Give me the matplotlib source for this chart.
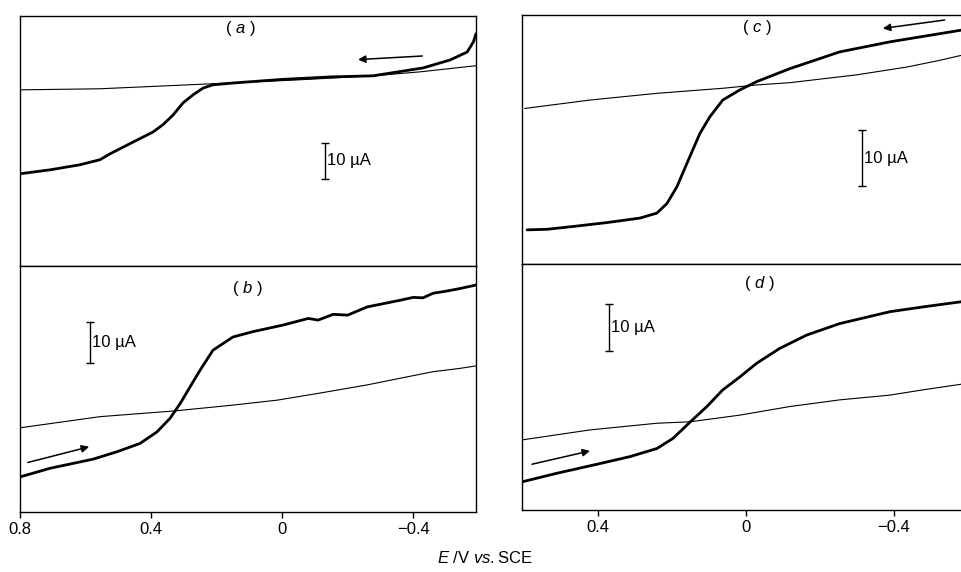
import matplotlib.pyplot as plt

plt.rcParams['font.family'] = ['Liberation Sans', 'DejaVu Sans']
plt.rcParams['mathtext.fontset'] = 'custom'
plt.rcParams['mathtext.rm'] = 'Liberation Sans'
plt.rcParams['mathtext.it'] = 'Liberation Sans:italic'

# potentials in V vs SCE, currents in uA (arbitrary zero per panel)
# (a)
a_thin_E = [0.8, 0.556, 0.211, -0.055, -0.278, -0.421, -0.592]
a_thin_I = [48.9, 49.2, 50.6, 51.7, 52.8, 53.9, 55.6]
a_thick_E = [0.8, 0.708, 0.617, 0.556, 0.526, 0.455, 0.394, 0.364, 0.333, 0.302,
             0.272, 0.241, 0.211, 0.150, 0.0, -0.150, -0.278, -0.431, -0.513, -0.565, -0.584, -0.592]
a_thick_I = [25.6, 26.7, 28.1, 29.5, 31.1, 34.4, 37.2, 39.2, 41.9, 45.3,
             47.5, 49.4, 50.3, 50.8, 51.8, 52.5, 52.8, 55.0, 57.2, 59.4, 62.2, 64.5]
# (b)
b_thin_E = [0.8, 0.556, 0.327, 0.150, 0.015, -0.107, -0.260, -0.360, -0.461, -0.543, -0.592]
b_thin_I = [20.4, 23.1, 24.5, 25.9, 27.1, 28.7, 30.8, 32.4, 34.0, 34.8, 35.4]
b_thick_E = [0.8, 0.708, 0.577, 0.504, 0.434, 0.382, 0.342, 0.311, 0.281, 0.250,
             0.211, 0.150, 0.089, -0.003, -0.08, -0.11, -0.156, -0.20, -0.23, -0.260,
             -0.360, -0.40, -0.43, -0.461, -0.50, -0.54, -0.592]
b_thick_I = [8.5, 10.6, 12.8, 14.6, 16.6, 19.4, 22.7, 26.3, 30.3, 34.4,
             39.2, 42.4, 43.7, 45.3, 46.9, 46.5, 47.9, 47.7, 48.7, 49.7,
             51.3, 52.0, 51.9, 53.0, 53.5, 54.1, 55.0]
# (c)
c_thin_E = [0.597, 0.421, 0.240, 0.062, -0.030, -0.119, -0.300, -0.436, -0.525, -0.584]
c_thin_I = [27.8, 29.3, 30.5, 31.4, 32.0, 32.4, 33.8, 35.2, 36.4, 37.3]
c_thick_E = [0.591, 0.537, 0.467, 0.375, 0.286, 0.240, 0.213, 0.186, 0.151, 0.124,
             0.097, 0.062, 0.016, -0.030, -0.119, -0.254, -0.390, -0.584]
c_thick_I = [6.1, 6.2, 6.7, 7.4, 8.2, 9.1, 10.8, 13.8, 19.2, 23.3,
             26.3, 29.3, 31.1, 32.6, 34.9, 37.9, 39.7, 41.8]
# (d)
d_thin_E = [0.605, 0.421, 0.240, 0.151, 0.016, -0.119, -0.254, -0.390, -0.479, -0.584]
d_thin_I = [14.7, 16.8, 18.2, 18.5, 19.9, 21.7, 23.1, 24.1, 25.2, 26.4]
d_thick_E = [0.605, 0.511, 0.402, 0.313, 0.240, 0.197, 0.151, 0.105, 0.062, 0.016,
             -0.030, -0.092, -0.165, -0.254, -0.390, -0.479, -0.584]
d_thick_I = [5.9, 7.7, 9.6, 11.2, 12.9, 15.0, 18.4, 21.7, 25.2, 27.9,
             30.8, 33.9, 36.7, 39.1, 41.6, 42.6, 43.7]

left_ticks = [0.8, 0.4, 0, -0.4]
left_labels = ['0.8', '0.4', '0', '\u22120.4']
right_ticks = [0.4, 0, -0.4]
right_labels = ['0.4', '0', '\u22120.4']

fig = plt.figure(figsize=(9.62, 5.72), dpi=100)
ax_a = fig.add_axes([0.0208, 0.535, 0.474, 0.437])
ax_b = fig.add_axes([0.0208, 0.1049, 0.474, 0.430])
ax_c = fig.add_axes([0.5426, 0.5385, 0.4574, 0.4353])
ax_d = fig.add_axes([0.5426, 0.1084, 0.4574, 0.430])

panels = [
    (ax_a, a_thin_E, a_thin_I, a_thick_E, a_thick_I, 69.4, (0.8, -0.592), 'a', (0.128, 0.95)),
    (ax_b, b_thin_E, b_thin_I, b_thick_E, b_thick_I, 59.6, (0.8, -0.592), 'b', (0.107, 0.91)),
    (ax_c, c_thin_E, c_thin_I, c_thick_E, c_thick_I, 44.5, (0.605, -0.585), 'c', (-0.030, 0.95)),
    (ax_d, d_thin_E, d_thin_I, d_thick_E, d_thick_I, 51.6, (0.605, -0.585), 'd', (-0.038, 0.92)),
]

for ax, tE, tI, kE, kI, ytop, xl, lab, (lx, ly) in panels:
    ax.plot(tE, tI, color='k', lw=0.8)
    ax.plot(kE, kI, color='k', lw=2.0, solid_capstyle='round', solid_joinstyle='round')
    ax.set_yticks([])
    for s in ax.spines.values():
        s.set_linewidth(1.0)
    ax.text(lx, ly, '( $\\it{' + lab + '}$ )', transform=ax.get_xaxis_transform(),
            ha='center', va='center', fontsize=12)

for ax in (ax_c, ax_d):
    ax.spines['right'].set_visible(False)

for ax in (ax_a, ax_c):
    ax.set_xticks([])
ax_b.set_xticks(left_ticks)
ax_b.set_xticklabels(left_labels)
ax_d.set_xticks(right_ticks)
ax_d.set_xticklabels(right_labels)
for ax in (ax_b, ax_d):
    ax.tick_params(axis='x', direction='out', length=4, width=1, labelsize=12, pad=3)

for ax, tE, tI, kE, kI, ytop, xl, lab, _ in panels:
    ax.set_xlim(*xl)
    ax.set_ylim(0, ytop)

# 10 uA scale bars
bars = [(ax_a, -0.131, 24.2), (ax_b, 0.586, 36.1), (ax_c, -0.314, 13.9), (ax_d, 0.370, 33.3)]
for ax, bx, by in bars:
    ax.errorbar([bx], [by + 5], yerr=5, color='k', lw=1, capsize=3, capthick=1)
    ax.text(bx, by + 5, '10 \u00b5A', ha='left', va='center', fontsize=12,
            transform=ax.transData + plt.matplotlib.transforms.ScaledTranslation(2 / 100, 0, fig.dpi_scale_trans))

# scan direction arrows
arrows = [(ax_a, (-0.428, 58.3), (-0.232, 57.3)),
          (ax_b, (0.776, 12.0), (0.589, 15.8)),
          (ax_c, (-0.538, 43.6), (-0.371, 42.1)),
          (ax_d, (0.578, 9.6), (0.421, 12.4))]
for ax, start, end in arrows:
    ax.annotate('', xy=end, xytext=start,
                arrowprops=dict(arrowstyle='-|>', color='k', lw=1.1,
                                mutation_scale=11, shrinkA=0, shrinkB=0))

fig.text(0.504, 0.025, '$\\it{E}$ /V $\\it{vs.}$SCE', ha='center', va='center', fontsize=12)

fig.savefig('out.png', dpi=100)
